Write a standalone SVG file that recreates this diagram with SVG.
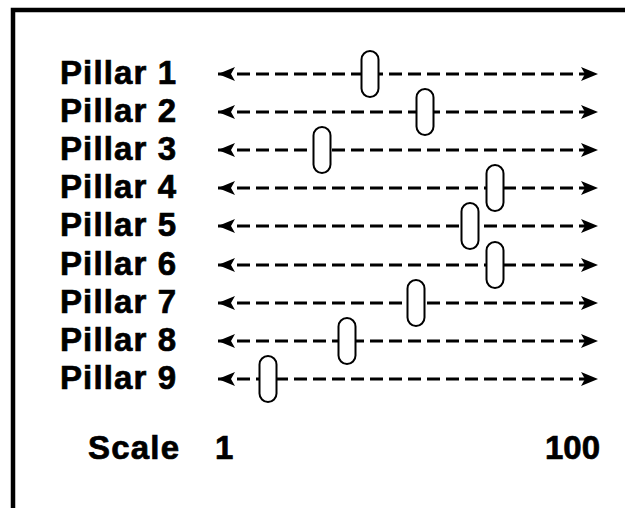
<svg xmlns="http://www.w3.org/2000/svg" width="625" height="508" viewBox="0 0 625 508">
<defs>
<style>
.lbl{font-family:"Liberation Sans",Arial,sans-serif;font-weight:700;font-size:33px;fill:#000;stroke:#000;stroke-width:0.7}
.ax{stroke:#000;stroke-width:3;stroke-dasharray:13 6;fill:none;marker-start:url(#ah);marker-end:url(#ah)}
.sl{fill:#fff;stroke:#000;stroke-width:2}
</style>
<marker id="ah" markerUnits="userSpaceOnUse" viewBox="0 0 17 14" refX="17" refY="7" markerWidth="17" markerHeight="14" orient="auto-start-reverse">
<path d="M0,0 L17,7 L0,14 L4,7 z" fill="#000"/>
</marker>
</defs>
<rect x="0" y="0" width="625" height="508" fill="#fff"/>
<rect x="13" y="10" width="640" height="520" fill="none" stroke="#000" stroke-width="4.5"/>
<g id="connectors">
<line class="ax" x1="218" y1="74" x2="598" y2="74"/>
<line class="ax" x1="218" y1="112" x2="598" y2="112"/>
<line class="ax" x1="218" y1="150" x2="598" y2="150"/>
<line class="ax" x1="218" y1="188" x2="598" y2="188"/>
<line class="ax" x1="218" y1="226" x2="598" y2="226"/>
<line class="ax" x1="218" y1="265" x2="598" y2="265"/>
<line class="ax" x1="218" y1="303" x2="598" y2="303"/>
<line class="ax" x1="218" y1="341" x2="598" y2="341"/>
<line class="ax" x1="218" y1="379" x2="598" y2="379"/>
</g>
<g id="pillar1"><text class="lbl" x="60" y="84" textLength="116">Pillar 1</text><rect class="sl" x="361.5" y="51" width="17" height="46" rx="8.5"/></g>
<g id="pillar2"><text class="lbl" x="60" y="122" textLength="116">Pillar 2</text><rect class="sl" x="416.5" y="89" width="17" height="46" rx="8.5"/></g>
<g id="pillar3"><text class="lbl" x="60" y="160" textLength="116">Pillar 3</text><rect class="sl" x="313.5" y="127" width="17" height="46" rx="8.5"/></g>
<g id="pillar4"><text class="lbl" x="60" y="198" textLength="116">Pillar 4</text><rect class="sl" x="486.5" y="165" width="17" height="46" rx="8.5"/></g>
<g id="pillar5"><text class="lbl" x="60" y="236" textLength="116">Pillar 5</text><rect class="sl" x="461.5" y="203" width="17" height="46" rx="8.5"/></g>
<g id="pillar6"><text class="lbl" x="60" y="275" textLength="116">Pillar 6</text><rect class="sl" x="486.5" y="242" width="17" height="46" rx="8.5"/></g>
<g id="pillar7"><text class="lbl" x="60" y="313" textLength="116">Pillar 7</text><rect class="sl" x="407.5" y="280" width="17" height="46" rx="8.5"/></g>
<g id="pillar8"><text class="lbl" x="60" y="351" textLength="116">Pillar 8</text><rect class="sl" x="338.5" y="318" width="17" height="46" rx="8.5"/></g>
<g id="pillar9"><text class="lbl" x="60" y="389" textLength="116">Pillar 9</text><rect class="sl" x="259.5" y="356" width="17" height="46" rx="8.5"/></g>
<g id="scale">
<text class="lbl" x="88" y="459" textLength="91">Scale</text>
<text class="lbl" x="215" y="459">1</text>
<text class="lbl" x="600" y="459" text-anchor="end">100</text>
</g>
</svg>
